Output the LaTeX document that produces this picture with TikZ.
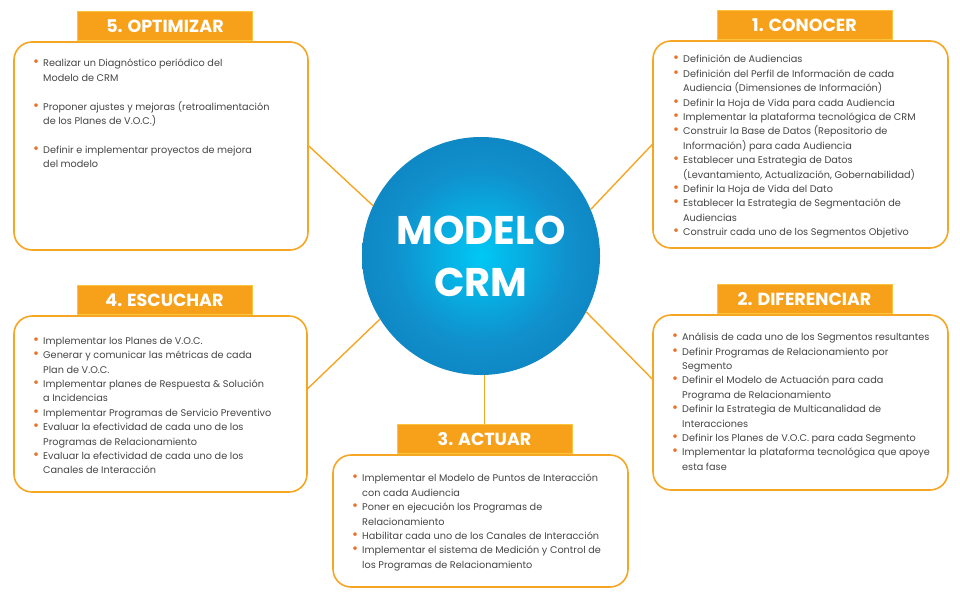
\documentclass[tikz,border=0pt]{standalone}
\usepackage{fontspec}
\setmainfont{Poppins}
\usetikzlibrary{positioning, shapes.geometric}

\definecolor{crmorange}{RGB}{247,161,27}
\definecolor{tabedge}{RGB}{252,196,60}
\definecolor{boxedge}{RGB}{245,166,35}
\definecolor{dotorange}{RGB}{236,112,40}
\definecolor{textgray}{RGB}{70,70,70}
\definecolor{crmlight}{RGB}{0,200,245}
\definecolor{crmmid}{RGB}{16,145,205}
\definecolor{crmdark}{RGB}{12,105,165}

\pgfdeclareradialshading{crmball}{\pgfpoint{0bp}{0bp}}{color(0bp)=(crmlight); color(18bp)=(crmmid); color(50bp)=(crmdark)}

\newcommand{\itm}[1]{\makebox[10pt][l]{\textcolor{dotorange}{\scalebox{1.5}{\textbullet}}}#1}
\newcommand{\cnt}[1]{\hspace*{10pt}#1}

\begin{document}
\begin{tikzpicture}[
    x=1pt, y=-1pt,
    % Styles
    box/.style={ % Content frame of a phase
        rectangle,
        rounded corners=18pt,
        draw=boxedge,
        line width=1.6pt,
        fill=white,
        inner sep=0pt
    },
    tab/.style={ % Phase title
        rectangle,
        minimum width=175pt,
        minimum height=29pt,
        fill=crmorange,
        draw=tabedge,
        line width=1pt,
        text=white,
        font=\fontsize{17.5}{17.5}\selectfont\bfseries,
        inner sep=0pt
    },
    items/.style={ % Bullet list
        anchor=north west,
        align=left,
        inner sep=0pt,
        text=textgray,
        font=\fontsize{9.7}{14.4}\selectfont
    },
    link/.style={
        draw=boxedge,
        line width=1.4pt
    }
]
    \useasboundingbox (0,0) rectangle (960,608);

    % Centre
    \node at (481,256) [circle, minimum size=238pt, inner sep=0pt, shading=crmball,
        text=white, align=center, font=\fontsize{40}{52}\selectfont\bfseries] (crm) {MODELO\\CRM};

    % Phase frames
    \node at (161,146) [box, minimum width=294pt, minimum height=208pt] (box5) {};
    \node at (800.5,144.5) [box, minimum width=295pt, minimum height=207pt] (box1) {};
    \node at (160.5,404) [box, minimum width=293pt, minimum height=176pt] (box4) {};
    \node at (800.5,402.5) [box, minimum width=295pt, minimum height=175pt] (box2) {};
    \node at (480.5,521) [box, minimum width=295pt, minimum height=132pt] (box3) {};

    % Titles
    \node[tab, above=0pt of box5.north, xshift=4pt] (tab5) {5. OPTIMIZAR};
    \node[tab, above=0pt of box1.north, xshift=4pt] (tab1) {1. CONOCER};
    \node[tab, above=0pt of box4.north, xshift=4pt] (tab4) {4. ESCUCHAR};
    \node[tab, above=0pt of box2.north, xshift=4pt] (tab2) {2. DIFERENCIAR};
    \node[tab, above=0pt of box3.north, xshift=4pt] (tab3) {3. ACTUAR};

    % Centre -> phases
    \foreach \a/\b in {155/box5.east, 23/box1.west, 212/box4.6, 332/box2.171}
        \draw [link] (crm.\a) -- (\b);
    \draw [link] (tab3.north) -- (tab3.north |- crm.south);

    % Lists
    \node[items] (list5) at (33,59) {%
        \itm{Realizar un Diagnóstico periódico del}\\
        \cnt{Modelo de CRM}\\[14.4pt]
        \itm{Proponer ajustes y mejoras (retroalimentación}\\
        \cnt{de los Planes de V.O.C.)}\\[14.4pt]
        \itm{Definir e implementar proyectos de mejora}\\
        \cnt{del modelo}};
    \node[items] (list1) at (673,55) {%
        \itm{Definición de Audiencias}\\
        \itm{Definición del Perfil de Información de cada}\\
        \cnt{Audiencia (Dimensiones de Información)}\\
        \itm{Definir la Hoja de Vida para cada Audiencia}\\
        \itm{Implementar la plataforma tecnológica de CRM}\\
        \itm{Construir la Base de Datos (Repositorio de}\\
        \cnt{Información) para cada Audiencia}\\
        \itm{Establecer una Estrategia de Datos}\\
        \cnt{(Levantamiento, Actualización, Gobernabilidad)}\\
        \itm{Definir la Hoja de Vida del Dato}\\
        \itm{Establecer la Estrategia de Segmentación de}\\
        \cnt{Audiencias}\\
        \itm{Construir cada uno de los Segmentos Objetivo}};
    \node[items] (list4) at (33,337) {%
        \itm{Implementar los Planes de V.O.C.}\\
        \itm{Generar y comunicar las métricas de cada}\\
        \cnt{Plan de V.O.C.}\\
        \itm{Implementar planes de Respuesta \& Solución}\\
        \cnt{a Incidencias}\\
        \itm{Implementar Programas de Servicio Preventivo}\\
        \itm{Evaluar la efectividad de cada uno de los}\\
        \cnt{Programas de Relacionamiento}\\
        \itm{Evaluar la efectividad de cada uno de los}\\
        \cnt{Canales de Interacción}};
    \node[items] (list2) at (672,333) {%
        \itm{Análisis de cada uno de los Segmentos resultantes}\\
        \itm{Definir Programas de Relacionamiento por}\\
        \cnt{Segmento}\\
        \itm{Definir el Modelo de Actuación para cada}\\
        \cnt{Programa de Relacionamiento}\\
        \itm{Definir la Estrategia de Multicanalidad de}\\
        \cnt{Interacciones}\\
        \itm{Definir los Planes de V.O.C. para cada Segmento}\\
        \itm{Implementar la plataforma tecnológica que apoye}\\
        \cnt{esta fase}};
    \node[items] (list3) at (352,474) {%
        \itm{Implementar el Modelo de Puntos de Interacción}\\
        \cnt{con cada Audiencia}\\
        \itm{Poner en ejecución los Programas de}\\
        \cnt{Relacionamiento}\\
        \itm{Habilitar cada uno de los Canales de Interacción}\\
        \itm{Implementar el sistema de Medición y Control de}\\
        \cnt{los Programas de Relacionamiento}};
\end{tikzpicture}
\end{document}
